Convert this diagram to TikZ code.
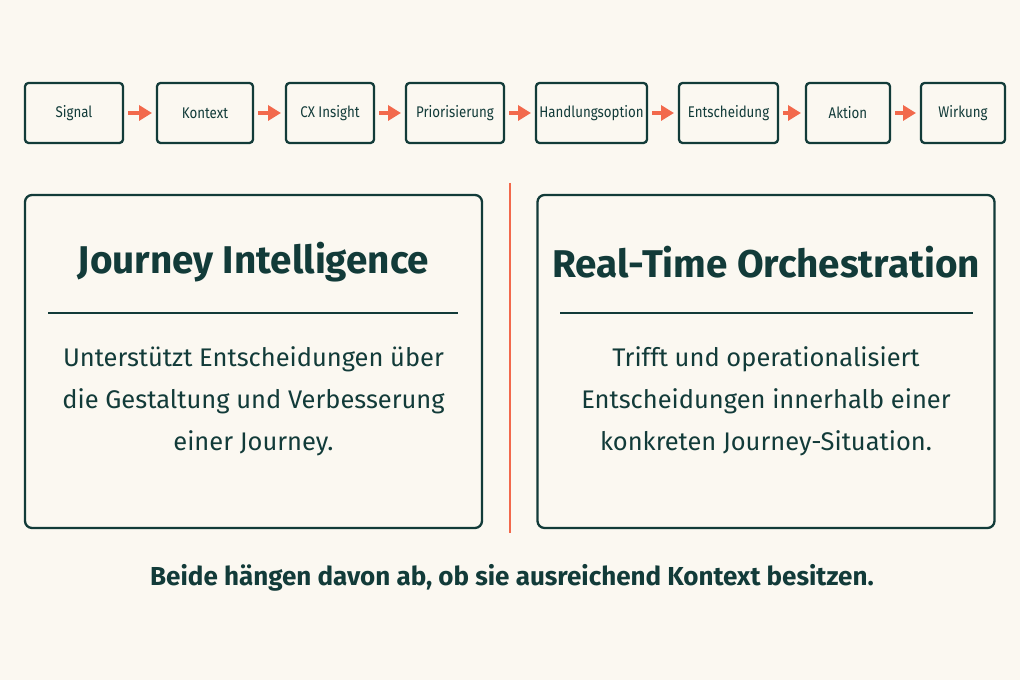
\documentclass[tikz,border=0pt]{standalone}
\usepackage{fontspec}
\setmainfont{Fira Sans}
\newfontfamily\stepfont{Fira Sans}[FakeStretch=0.86]
\usetikzlibrary{arrows.meta, positioning}

\definecolor{ink}{HTML}{123B39}
\definecolor{flame}{HTML}{F2694C}
\definecolor{paper}{HTML}{FBF8F1}

\begin{document}
\begin{tikzpicture}[
    node distance=0.64cm,
    stepbox/.style={draw=ink, line width=1.3pt, rounded corners=2pt, minimum height=1.2cm,
        inner xsep=0pt, outer sep=0pt, font=\stepfont\fontsize{8.8}{11}\selectfont, text=ink},
    flow/.style={-{Triangle[length=0.26cm, width=0.3cm]}, draw=flame, line width=2.2pt,
        shorten <=0.1cm, shorten >=0.1cm},
    panel/.style={draw=ink, line width=1.3pt, rounded corners=4pt, minimum width=9.14cm,
        minimum height=6.66cm},
    heading/.style={font=\fontsize{22}{26}\selectfont\bfseries, text=ink},
    body/.style={font=\fontsize{14.5}{23.8}\selectfont, text=ink, align=center}
]
    \fill[paper] (0,0) rectangle (20.4,13.6);
    \useasboundingbox (0,0) rectangle (20.4,13.6);

    % Steps
    \node[stepbox, minimum width=1.96cm] (signal) at (1.48,11.34) {Signal};
    \node[stepbox, minimum width=1.92cm, right=0.68cm of signal] (kontext) {Kontext};
    \node[stepbox, minimum width=1.76cm, right=0.66cm of kontext] (insight) {CX Insight};
    \node[stepbox, minimum width=1.96cm, right=of insight] (prio) {Priorisierung};
    \node[stepbox, minimum width=2.22cm, right=of prio] (option) {Handlungsoption};
    \node[stepbox, minimum width=1.98cm, right=of option] (decision) {Entscheidung};
    \node[stepbox, minimum width=1.68cm, right=0.56cm of decision] (action) {Aktion};
    \node[stepbox, minimum width=1.68cm, right=0.62cm of action] (effect) {Wirkung};

    % Arrows
    \draw[flow] (signal) -- (kontext);
    \draw[flow] (kontext) -- (insight);
    \draw[flow] (insight) -- (prio);
    \draw[flow] (prio) -- (option);
    \draw[flow] (option) -- (decision);
    \draw[flow] (decision) -- (action);
    \draw[flow] (action) -- (effect);

    % Panels
    \node[panel] (left) at (5.07,6.37) {};
    \node[panel] (right) at (15.32,6.37) {};
    \coordinate (splittop) at (10.2,9.94);
    \coordinate (splitbot) at (10.2,2.94);
    \draw[flame, line width=1.5pt] (splittop) -- (splitbot);

    \node[heading] (lefttitle) at (5.07,8.36) {Journey Intelligence};
    \node[heading] (righttitle) at (15.32,8.36) {Real-Time Orchestration};
    \draw[ink, line width=1.1pt] (0.96,7.34) -- (9.16,7.34);
    \draw[ink, line width=1.1pt] (11.2,7.34) -- (19.46,7.34);

    \node[body] (lefttext) at (5.07,5.58) {Unterstützt Entscheidungen über\\die Gestaltung und Verbesserung\\einer Journey.};
    \node[body] (righttext) at (15.32,5.58) {Trifft und operationalisiert\\Entscheidungen innerhalb einer\\konkreten Journey-Situation.};

    \node[font=\fontsize{14.8}{18}\selectfont\bfseries, text=ink] (summary) at (10.24,2.04)
        {Beide hängen davon ab, ob sie ausreichend Kontext besitzen.};
\end{tikzpicture}
\end{document}
